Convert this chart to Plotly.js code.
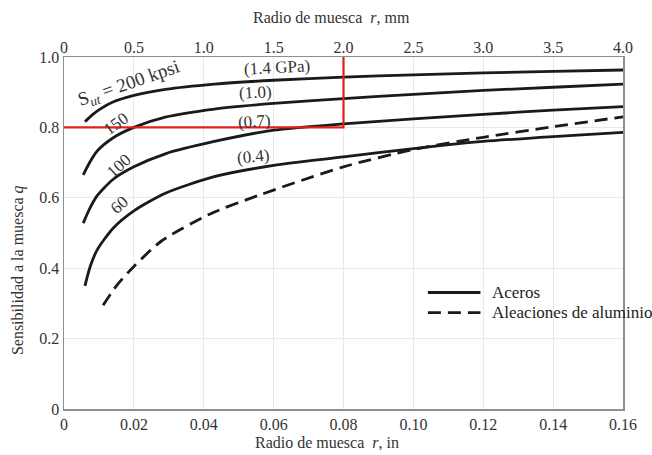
<!DOCTYPE html>
<html>
<head>
<meta charset="utf-8">
<script src="https://cdn.plot.ly/plotly-3.0.1.min.js"></script>
<style>html,body{margin:0;padding:0;background:#fff;}#chart{width:652px;height:455px;}</style>
</head>
<body>
<div id="chart"></div>
<script>
// Notch radius r (in) and notch sensitivity q
const r200 = [0.006, 0.008, 0.010, 0.014, 0.020, 0.029, 0.043, 0.060, 0.080, 0.100, 0.120, 0.140, 0.160];
const q200 = [0.816, 0.835, 0.850, 0.872, 0.891, 0.908, 0.923, 0.934, 0.943, 0.949, 0.955, 0.959, 0.963];
const r150 = [0.0055, 0.0075, 0.0095, 0.014, 0.020, 0.029, 0.043, 0.060, 0.080, 0.100, 0.120, 0.140, 0.160];
const q150 = [0.665, 0.703, 0.733, 0.770, 0.800, 0.829, 0.852, 0.868, 0.882, 0.894, 0.905, 0.914, 0.923];
const r100 = [0.0055, 0.0075, 0.0095, 0.014, 0.020, 0.029, 0.043, 0.060, 0.080, 0.100, 0.120, 0.140, 0.160];
const q100 = [0.528, 0.572, 0.606, 0.652, 0.688, 0.725, 0.760, 0.792, 0.810, 0.824, 0.837, 0.849, 0.859];
const r60  = [0.006, 0.0075, 0.0095, 0.014, 0.020, 0.029, 0.043, 0.060, 0.080, 0.100, 0.120, 0.140, 0.160];
const q60  = [0.350, 0.405, 0.452, 0.513, 0.563, 0.613, 0.660, 0.692, 0.716, 0.740, 0.760, 0.774, 0.786];
const rAl  = [0.0112, 0.015, 0.020, 0.028, 0.042, 0.056, 0.080, 0.100, 0.120, 0.140, 0.160];
const qAl  = [0.295, 0.350, 0.405, 0.478, 0.555, 0.608, 0.688, 0.737, 0.772, 0.802, 0.830];
// red reading guide (r = 0.08 in, q = 0.8)
const readR = [-0.002, 0.08, 0.08];
const readQ = [0.8, 0.8, 1.005];
// tick labels
const xTickVals = [0, 0.02, 0.04, 0.06, 0.08, 0.10, 0.12, 0.14, 0.16];
const xTickText = ['0', '0.02', '0.04', '0.06', '0.08', '0.10', '0.12', '0.14', '0.16'];
const mmTickVals = [0, 0.5, 1.0, 1.5, 2.0, 2.5, 3.0, 3.5, 4.0];
const mmTickText = ['0', '0.5', '1.0', '1.5', '2.0', '2.5', '3.0', '3.5', '4.0'];
const yTickVals = [0, 0.2, 0.4, 0.6, 0.8, 1.0];
const yTickText = ['0', '0.2', '0.4', '0.6', '0.8', '1.0'];
const labels = [
  {t: 'S<sub><i>ut</i></sub> = 200 kpsi', r: 0.0187, q: 0.922, a: -19, s: 19},
  {t: '(1.4 GPa)', r: 0.0610, q: 0.969, a: -3, s: 17},
  {t: '(1.0)', r: 0.0548, q: 0.898, a: -3, s: 17},
  {t: '150', r: 0.0150, q: 0.812, a: -36, s: 17},
  {t: '(0.7)', r: 0.0544, q: 0.818, a: -4, s: 17},
  {t: '100', r: 0.0158, q: 0.692, a: -42, s: 17},
  {t: '(0.4)', r: 0.0542, q: 0.716, a: -5, s: 17},
  {t: '60', r: 0.0160, q: 0.580, a: -42, s: 17}
];
const legendNames = ['Aceros', 'Aleaciones de aluminio'];
const titleBottom = 'Radio de muesca  <i>r</i>, in';
const titleTop = 'Radio de muesca  <i>r</i>, mm';
const titleLeft = 'Sensibilidad a la muesca <i>q</i>';

const FONT = 'Liberation Serif, Times New Roman, serif';
const solid = {color: '#1a1a1a', width: 2.8, shape: 'spline', smoothing: 0.7};
const dashed = {color: '#1a1a1a', width: 2.8, dash: '13px,7px', shape: 'spline', smoothing: 0.7};
const traces = [
  {x: r200, y: q200, mode: 'lines', line: solid},
  {x: r150, y: q150, mode: 'lines', line: solid},
  {x: r100, y: q100, mode: 'lines', line: solid},
  {x: r60, y: q60, mode: 'lines', line: solid},
  {x: rAl, y: qAl, mode: 'lines', line: dashed},
  {x: readR, y: readQ, mode: 'lines', line: {color: '#e0201c', width: 2.2}, cliponaxis: false},
  {x: [0, 4], y: [0, 0], xaxis: 'x2', mode: 'none', hoverinfo: 'skip'}
];

const axisCommon = {
  showline: true, linecolor: '#8f8f8f', linewidth: 1.5, mirror: true,
  showgrid: true, gridcolor: '#e8e8e8', gridwidth: 1, zeroline: false,
  ticks: '', tickfont: {family: FONT, size: 16, color: '#333'}
};

// manual legend (line glyph + text), placed in paper units
const legY = [0.331, 0.274];
const legendShapes = [
  {type: 'line', xref: 'paper', yref: 'paper', x0: 0.651, x1: 0.745, y0: legY[0], y1: legY[0], line: {color: '#1a1a1a', width: 2.8}},
  {type: 'line', xref: 'paper', yref: 'paper', x0: 0.651, x1: 0.745, y0: legY[1], y1: legY[1], line: {color: '#1a1a1a', width: 2.8, dash: '13px,7px'}}
];
const legendAnn = legendNames.map((n, i) => ({
  x: 0.762, y: legY[i], xref: 'paper', yref: 'paper', xanchor: 'left', yanchor: 'middle',
  text: n, showarrow: false, font: {family: FONT, size: 17, color: '#222'}
}));
const titleFont = {family: FONT, size: 16, color: '#333'};
const titleAnn = [
  {x: 0.470, y: -0.094, xref: 'paper', yref: 'paper', xanchor: 'center', yanchor: 'middle', text: titleBottom, showarrow: false, font: titleFont},
  {x: 0.479, y: 1.112, xref: 'paper', yref: 'paper', xanchor: 'center', yanchor: 'middle', text: titleTop, showarrow: false, font: titleFont},
  {x: -0.082, y: 0.395, xref: 'paper', yref: 'paper', xanchor: 'center', yanchor: 'middle', text: titleLeft, showarrow: false, textangle: -90, font: titleFont}
];

const layout = {
  width: 652, height: 455,
  margin: {l: 64, r: 29, t: 57, b: 46},
  paper_bgcolor: '#fff', plot_bgcolor: '#fff',
  showlegend: false,
  font: {family: FONT, color: '#222'},
  xaxis: Object.assign({}, axisCommon, {range: [0, 0.16], tickvals: xTickVals, ticktext: xTickText}),
  xaxis2: Object.assign({}, axisCommon, {
    overlaying: 'x', side: 'top', range: [0, 4], tickvals: mmTickVals, ticktext: mmTickText,
    showgrid: false, showline: false
  }),
  yaxis: Object.assign({}, axisCommon, {range: [0, 1.0], tickvals: yTickVals, ticktext: yTickText}),
  shapes: legendShapes,
  annotations: labels.map(l => ({
    x: l.r, y: l.q, xref: 'x', yref: 'y', text: l.t, showarrow: false, textangle: l.a,
    font: {family: FONT, size: l.s, color: '#333'}
  })).concat(legendAnn, titleAnn)
};

Plotly.newPlot('chart', traces, layout, {displayModeBar: false, staticPlot: true});
</script>
</body>
</html>
